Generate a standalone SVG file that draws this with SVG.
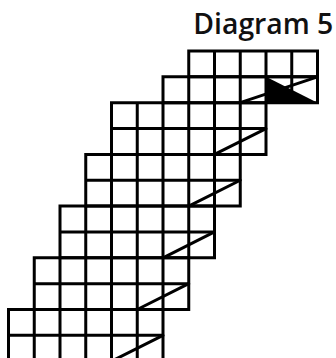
<svg xmlns="http://www.w3.org/2000/svg" width="336" height="358" viewBox="0 0 336 358">
<style>
.g{fill:none;stroke:#000;stroke-width:3;stroke-linecap:square}
.d{fill:none;stroke:#000;stroke-width:3;stroke-linecap:round}
.t{font-family:"Open Sans",sans-serif;font-size:28.5px;font-weight:600;fill:#111}
</style>
<rect width="336" height="358" fill="#fff"/>
<text class="t" x="193.3" y="34.3" textLength="140" lengthAdjust="spacingAndGlyphs">Diagram 5</text>
<g id="grid" class="g">
<path id="row0" d="M188.75 51H317.5V76.85H188.75Z M214.5 51V76.85 M240.25 51V76.85 M266 51V76.85 M291.75 51V76.85"/>
<path id="row1" d="M163 76.85H317.5V102.7H163Z M188.75 76.85V102.7 M214.5 76.85V102.7 M240.25 76.85V102.7 M266 76.85V102.7 M291.75 76.85V102.7"/>
<path id="rows2_3" d="M111.5 102.7H266V154.4H111.5Z M111.5 128.55H266 M137.25 102.7V154.4 M163 102.7V154.4 M188.75 102.7V154.4 M214.5 102.7V154.4 M240.25 102.7V154.4"/>
<path id="rows4_5" d="M85.75 154.4H240.25V206.1H85.75Z M85.75 180.25H240.25 M111.5 154.4V206.1 M137.25 154.4V206.1 M163 154.4V206.1 M188.75 154.4V206.1 M214.5 154.4V206.1"/>
<path id="rows6_7" d="M60 206.1H214.5V257.8H60Z M60 231.95H214.5 M85.75 206.1V257.8 M111.5 206.1V257.8 M137.25 206.1V257.8 M163 206.1V257.8 M188.75 206.1V257.8"/>
<path id="rows8_9" d="M34.25 257.8H188.75V309.5H34.25Z M34.25 283.65H188.75 M60 257.8V309.5 M85.75 257.8V309.5 M111.5 257.8V309.5 M137.25 257.8V309.5 M163 257.8V309.5"/>
<path id="rows10_11" d="M8.5 309.5H163V370H8.5Z M8.5 335.35H163 M34.25 309.5V370 M60 309.5V370 M85.75 309.5V370 M111.5 309.5V370 M137.25 309.5V370"/>
</g>
<polygon id="shade" points="266,76.85 317.5,102.7 266,102.7" fill="#000"/>
<g id="connectors" class="d">
<line x1="240.25" y1="102.7" x2="317.5" y2="76.85"/>
<line x1="214.5" y1="154.4" x2="266" y2="128.55"/>
<line x1="188.75" y1="206.1" x2="240.25" y2="180.25"/>
<line x1="163" y1="257.8" x2="214.5" y2="231.95"/>
<line x1="137.25" y1="309.5" x2="188.75" y2="283.65"/>
<line x1="111.5" y1="361.2" x2="163" y2="335.35"/>
</g>
</svg>
